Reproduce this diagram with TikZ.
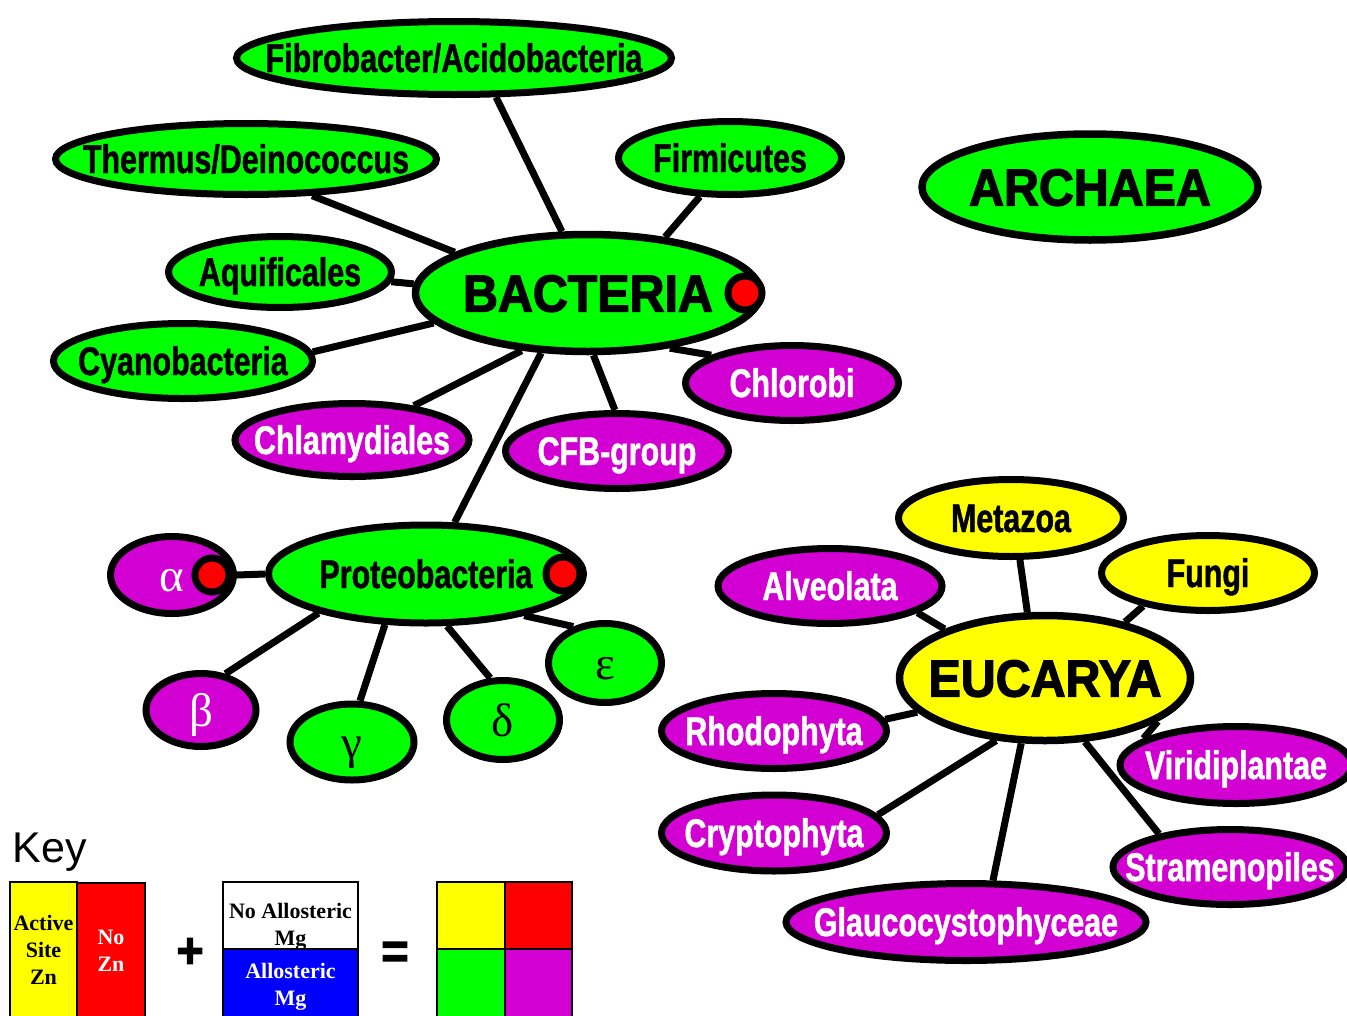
\documentclass[tikz,border=0pt]{standalone}
\usepackage{fontspec}
\setmainfont{Liberation Serif}
\newfontfamily\narrowsans{Liberation Sans}[FakeStretch=0.76, BoldFeatures={FakeBold=1.2}]
\newfontfamily\heavysans{Liberation Sans}[FakeStretch=0.93, BoldFeatures={FakeBold=2.5}]
\newfontfamily\plainsans{Liberation Sans}
\usetikzlibrary{shapes.geometric,shadows,backgrounds}

\definecolor{grn}{RGB}{0,255,0}
\definecolor{purp}{RGB}{210,0,210}
\definecolor{yel}{RGB}{255,255,0}

\tikzset{every picture/.style={line width=0.75pt}}
\tikzset{
	taxon/.style={ellipse, draw=black, line width=7pt, inner sep=-300pt,
		drop shadow={shadow xshift=2.5pt, shadow yshift=-2.5pt, opacity=1, fill=black},
		text height=28pt, text depth=0pt,
		font=\narrowsans\bfseries\fontsize{40}{40}\selectfont},
	bacgrp/.style={taxon, fill=grn},
	eucgrp/.style={taxon, fill=yel},
	nozn/.style={taxon, fill=purp, text=white},
	toplevel/.style={taxon, line width=7.5pt, text height=37pt,
		font=\heavysans\bfseries\fontsize{52}{52}\selectfont},
	greek/.style={font=\fontsize{47}{47}\selectfont, text height=38pt, text depth=6pt},
	ellsize/.style 2 args={minimum width=#1pt, minimum height=#2pt},
	zndot/.style={circle, draw=black, fill=red, line width=7pt, minimum size=34pt, inner sep=0pt},
	link/.style={line width=7pt},
	keycell/.style={rectangle, draw=black, line width=1.2pt, inner sep=0pt, align=center,
		font=\bfseries\fontsize{22}{27}\selectfont},
	keysign/.style={font=\heavysans\bfseries\fontsize{50}{50}\selectfont},
}

\begin{document}
\begin{tikzpicture}[x=1pt,y=1pt,yscale=-1,xscale=1]
	\useasboundingbox (0,0) rectangle (1347,1015);

	%Shape: Ellipse (domains)
	\node[toplevel, fill=grn, ellsize={345}{117}] (bact) at (588,293) {BACTERIA};
	\node[toplevel, fill=grn, ellsize={336}{106}] (arch) at (1090,187) {ARCHAEA};
	\node[toplevel, fill=yel, ellsize={291}{125}] (euc) at (1045,678) {EUCARYA};

	%Shape: Ellipse (bacteria)
	\node[bacgrp, ellsize={435}{73}] (fibro) at (454,58) {Fibrobacter/Acidobacteria};
	\node[bacgrp, ellsize={381}{71}] (thermus) at (246,159) {Thermus/Deinococcus};
	\node[bacgrp, ellsize={223}{73}] (firmi) at (730,158) {Firmicutes};
	\node[bacgrp, ellsize={223}{71}] (aquif) at (280,272) {Aquificales};
	\node[bacgrp, ellsize={259}{75}] (cyano) at (183,361) {Cyanobacteria};
	\node[nozn, ellsize={213}{75}] (chlorobi) at (792,383) {Chlorobi};
	\node[nozn, ellsize={234}{73}] (chlamy) at (352,440) {Chlamydiales};
	\node[nozn, ellsize={223}{75}] (cfb) at (617,451) {CFB-group};
	\node[bacgrp, ellsize={315}{98}] (proteo) at (426,574) {Proteobacteria};

	%Shape: Ellipse (proteobacteria)
	\node[nozn, greek, ellsize={123}{77}] (alpha) at (172,575) {α};
	\node[nozn, greek, ellsize={110}{73}] (beta) at (201,710) {β};
	\node[bacgrp, greek, ellsize={124}{76}] (gamma) at (352,742) {γ};
	\node[bacgrp, greek, ellsize={113}{79}] (delta) at (503,720) {δ};
	\node[bacgrp, greek, ellsize={113}{79}] (epsilon) at (605,663) {ε};

	%Shape: Ellipse (eucarya)
	\node[eucgrp, ellsize={225}{77}] (metazoa) at (1011,518) {Metazoa};
	\node[eucgrp, ellsize={213}{75}] (fungi) at (1208,573) {Fungi};
	\node[nozn, ellsize={224}{75}] (alveo) at (830,586) {Alveolata};
	\node[nozn, ellsize={225}{75}] (rhodo) at (774,731) {Rhodophyta};
	\node[nozn, ellsize={232}{77}] (viridi) at (1236,765) {Viridiplantae};
	\node[nozn, ellsize={225}{76}] (crypto) at (774,833) {Cryptophyta};
	\node[nozn, ellsize={234}{75}] (strameno) at (1230,867) {Stramenopiles};
	\node[nozn, ellsize={360}{77}] (glauco) at (966,922) {Glaucocystophyceae};

	%Shape: Circle (zinc marks)
	\node[zndot] (bactzn) at (745,293) {};
	\node[zndot] (proteozn) at (563,574) {};
	\node[zndot] (alphazn) at (212,575) {};

	%Straight Lines
	\begin{scope}[on background layer]
		\draw[link] (fibro.-43) -- (bact.113);
		\draw[link] (thermus.-29) -- (bact.163);
		\draw[link] (firmi.232) -- (bact.36);
		\draw[link] (aquif.-5) -- (bact.177);
		\draw[link] (cyano.4) -- (bact.191);
		\draw[link] (chlamy.29) -- (bact.221);
		\draw[link] (cfb.93) -- (bact.275);
		\draw[link] (chlorobi.161) -- (bact.326);
		\draw[link] (proteo.61) -- (bact.232);
		\draw[link] (alpha.0) -- (proteo.180);
		\draw[link] (beta.56) -- (proteo.200);
		\draw[link] (gamma.79) -- (proteo.231);
		\draw[link] (delta.107) -- (proteo.292);
		\draw[link] (epsilon.131) -- (proteo.337);
		\draw[link] (metazoa.282) -- (euc.105);
		\draw[link] (fungi.207) -- (euc.35);
		\draw[link] (alveo.343) -- (euc.154);
		\draw[link] (rhodo.6) -- (euc.195);
		\draw[link] (viridi.164) -- (euc.339);
		\draw[link] (crypto.10) -- (euc.232);
		\draw[link] (strameno.155) -- (euc.302);
		\draw[link] (glauco.57) -- (euc.250);
	\end{scope}

	% Text Node
	\node[font=\plainsans\fontsize{43}{43}\selectfont] (keytitle) at (50,852) {Key};

	%Shape: Rectangle (key)
	\node[keycell, fill=yel, minimum width=67pt, minimum height=136pt] (actzn) at (43.5,950) {Active\\Site\\Zn};
	\node[keycell, fill=red, text=white, minimum width=68pt, minimum height=136pt] (noznkey) at (111,951) {No\\Zn};
	\node[keysign] (plus) at (190,953) {+};
	\node[keycell, fill=white, minimum width=135pt, minimum height=67pt, text height=60pt, text depth=0pt] (noallo) at (290.5,915.5) {No Allosteric\\Mg};
	\node[keycell, fill=blue, text=white, minimum width=135pt, minimum height=69pt, text height=44pt, text depth=0pt] (allo) at (290.5,983.5) {Allosteric\\Mg};
	\node[keysign] (equals) at (395,955) {=};
	\node[keycell, fill=yel, minimum width=68pt, minimum height=67pt] (sumyel) at (471,915.5) {};
	\node[keycell, fill=red, minimum width=67pt, minimum height=67pt] (sumred) at (538.5,915.5) {};
	\node[keycell, fill=grn, minimum width=68pt, minimum height=69pt] (sumgrn) at (471,983.5) {};
	\node[keycell, fill=purp, minimum width=67pt, minimum height=69pt] (sumpurp) at (538.5,983.5) {};

\end{tikzpicture}
\end{document}
